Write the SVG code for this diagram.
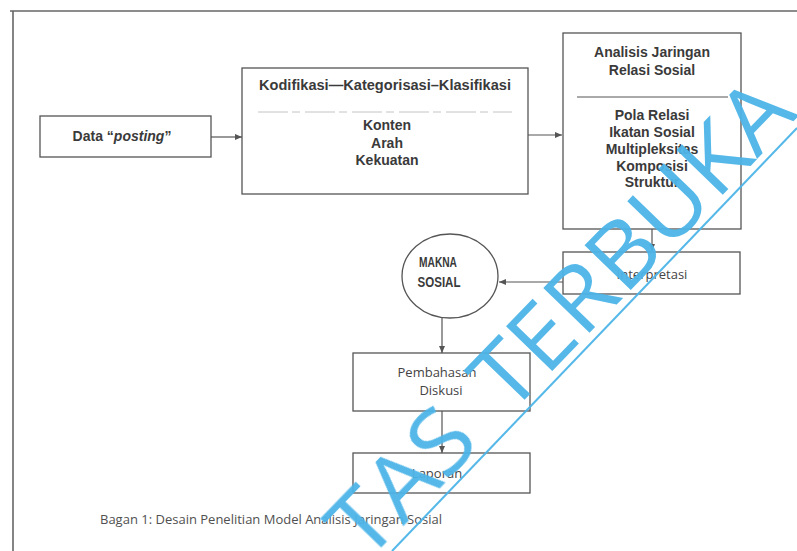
<svg xmlns="http://www.w3.org/2000/svg" width="797" height="551" viewBox="0 0 797 551">
<style>
.box{fill:none;stroke:#555;stroke-width:1.3}
.ln{fill:none;stroke:#555;stroke-width:1.2}
.t{font-family:"Liberation Sans",Arial,sans-serif;font-size:14px;font-weight:bold;fill:#3a3a3a;text-anchor:middle}
.o{font-family:"Open Sans","Noto Sans",sans-serif;font-size:13px;fill:#444;text-anchor:middle}
.cap{font-family:"Open Sans","Noto Sans",sans-serif;font-size:13px;fill:#505050}
.wm{font-family:"Open Sans","Noto Sans",sans-serif;font-size:90px;fill:#4db5e8}
</style>
<defs>
<marker id="ah" markerWidth="8" markerHeight="8" refX="7" refY="4" orient="auto" markerUnits="userSpaceOnUse">
<path d="M0,1 L7,4 L0,7 Z" fill="#555"/>
</marker>
</defs>
<rect width="797" height="551" fill="#fff"/>
<g id="frame">
<line x1="10" y1="11" x2="797" y2="11" stroke="#666" stroke-width="1.6"/>
<line x1="13" y1="11" x2="13" y2="551" stroke="#666" stroke-width="1.6"/>
</g>
<g id="connectors">
<line class="ln" x1="211" y1="137" x2="242" y2="137" marker-end="url(#ah)"/>
<line class="ln" x1="528" y1="135" x2="562" y2="135" marker-end="url(#ah)"/>
<line class="ln" x1="652" y1="229" x2="652" y2="251" marker-end="url(#ah)"/>
<line class="ln" x1="563" y1="282" x2="499" y2="282" marker-end="url(#ah)"/>
<line class="ln" x1="442" y1="318" x2="442" y2="353" marker-end="url(#ah)"/>
<line class="ln" x1="442" y1="411" x2="442" y2="453" marker-end="url(#ah)"/>
</g>
<g id="data">
<rect class="box" x="40" y="116" width="171" height="41"/>
<text class="t" x="122" y="141" font-size="12.5">Data “<tspan font-style="italic">posting</tspan>”</text>
</g>
<g id="kodifikasi">
<rect class="box" x="242" y="68" width="286" height="126"/>
<text class="t" x="385" y="90" textLength="252" lengthAdjust="spacingAndGlyphs">Kodifikasi—Kategorisasi–Klasifikasi</text>
<line x1="258" y1="112" x2="512" y2="112" stroke="#c4c4c4" stroke-width="1" stroke-dasharray="30 4 8 5"/>
<text class="t" x="387" y="130">Konten</text>
<text class="t" x="387" y="148">Arah</text>
<text class="t" x="387" y="165">Kekuatan</text>
</g>
<g id="analisis">
<rect class="box" x="563" y="33" width="178" height="196"/>
<text class="t" x="652" y="57">Analisis Jaringan</text>
<text class="t" x="652" y="75">Relasi Sosial</text>
<line x1="577" y1="97" x2="728" y2="97" stroke="#555" stroke-width="1"/>
<text class="t" x="652" y="120">Pola Relasi</text>
<text class="t" x="652" y="137">Ikatan Sosial</text>
<text class="t" x="652" y="154">Multipleksitas</text>
<text class="t" x="652" y="171">Komposisi</text>
<text class="t" x="652" y="187">Struktur</text>
</g>
<g id="interpretasi">
<rect class="box" x="563" y="252" width="177" height="42"/>
<text class="o" x="652" y="279">Interpretasi</text>
</g>
<g id="makna">
<ellipse class="box" cx="450" cy="276" rx="48" ry="42"/>
<text class="t" x="438" y="267" font-size="12" textLength="38" lengthAdjust="spacingAndGlyphs">MAKNA</text>
<text class="t" x="439" y="287" font-size="12" textLength="43" lengthAdjust="spacingAndGlyphs">SOSIAL</text>
</g>
<g id="pembahasan">
<rect class="box" x="353" y="353" width="177" height="58"/>
<text class="o" x="437" y="377">Pembahasan</text>
<text class="o" x="441" y="395">Diskusi</text>
</g>
<g id="laporan">
<rect class="box" x="353" y="453" width="177" height="40"/>
<text class="o" x="437" y="478">Laporan</text>
</g>
<text class="cap" x="100" y="524">Bagan 1: Desain Penelitian Model Analisis Jaringan Sosial</text>
<g id="watermark" opacity="0.95">
<text class="wm" transform="translate(366,564) rotate(-46)" textLength="167" lengthAdjust="spacingAndGlyphs">TAS</text>
<text class="wm" transform="translate(509,416) rotate(-46)" textLength="418" lengthAdjust="spacingAndGlyphs">TERBUKA</text>
<line x1="392" y1="551" x2="797" y2="128" stroke="#4db5e8" stroke-width="2"/>
</g>
</svg>
